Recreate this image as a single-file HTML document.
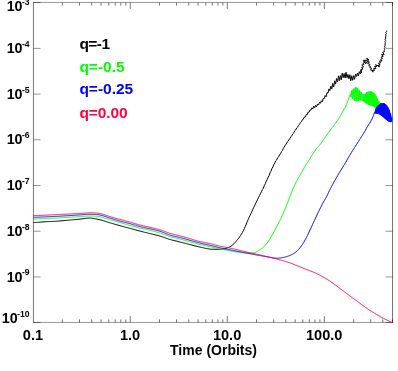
<!DOCTYPE html>
<html><head><meta charset="utf-8"><title>plot</title>
<style>
html,body{margin:0;padding:0;background:#fff;}
body{width:398px;height:371px;overflow:hidden;position:relative;font-family:"Liberation Sans",sans-serif;}
svg{will-change:transform;}
</style></head><body>
<svg width="398" height="371" viewBox="0 0 398 371" style="position:absolute;left:0;top:0">
<rect width="398" height="371" fill="#fff"/>
<g stroke="#000" fill="none">
<path d="M33.45,2.20 V322.80 M392.50,2.20 V322.80" stroke-width="0.54"/>
<path d="M33.20,2.45 H392.80 M33.20,322.45 H392.80" stroke-width="0.42"/>
<path d="M62.42,2.50 v3.10 M62.42,322.50 v-3.10 M79.51,2.50 v3.10 M79.51,322.50 v-3.10 M91.63,2.50 v3.10 M91.63,322.50 v-3.10 M101.04,2.50 v3.10 M101.04,322.50 v-3.10 M108.72,2.50 v3.10 M108.72,322.50 v-3.10 M115.22,2.50 v3.10 M115.22,322.50 v-3.10 M120.85,2.50 v3.10 M120.85,322.50 v-3.10 M125.81,2.50 v3.10 M125.81,322.50 v-3.10 M130.25,2.50 v6.40 M130.25,322.50 v-6.40 M159.47,2.50 v3.10 M159.47,322.50 v-3.10 M176.56,2.50 v3.10 M176.56,322.50 v-3.10 M188.69,2.50 v3.10 M188.69,322.50 v-3.10 M198.09,2.50 v3.10 M198.09,322.50 v-3.10 M205.78,2.50 v3.10 M205.78,322.50 v-3.10 M212.27,2.50 v3.10 M212.27,322.50 v-3.10 M217.90,2.50 v3.10 M217.90,322.50 v-3.10 M222.87,2.50 v3.10 M222.87,322.50 v-3.10 M227.31,2.50 v6.40 M227.31,322.50 v-6.40 M256.52,2.50 v3.10 M256.52,322.50 v-3.10 M273.61,2.50 v3.10 M273.61,322.50 v-3.10 M285.74,2.50 v3.10 M285.74,322.50 v-3.10 M295.15,2.50 v3.10 M295.15,322.50 v-3.10 M302.83,2.50 v3.10 M302.83,322.50 v-3.10 M309.33,2.50 v3.10 M309.33,322.50 v-3.10 M314.96,2.50 v3.10 M314.96,322.50 v-3.10 M319.92,2.50 v3.10 M319.92,322.50 v-3.10 M324.36,2.50 v6.40 M324.36,322.50 v-6.40 M353.58,2.50 v3.10 M353.58,322.50 v-3.10 M370.67,2.50 v3.10 M370.67,322.50 v-3.10 M382.79,2.50 v3.10 M382.79,322.50 v-3.10 M392.50,2.50 v3.10 M392.50,322.50 v-3.10" stroke-width="0.54"/>
<path d="M33.50,322.45 h7 M392.50,322.45 h-7 M33.50,276.94 h7 M392.50,276.94 h-7 M33.50,231.22 h7 M392.50,231.22 h-7 M33.50,185.51 h7 M392.50,185.51 h-7 M33.50,139.79 h7 M392.50,139.79 h-7 M33.50,94.08 h7 M392.50,94.08 h-7 M33.50,48.36 h7 M392.50,48.36 h-7 M33.50,2.45 h7 M392.50,2.45 h-7" stroke-width="0.42"/>
</g>
<g fill="none" stroke-width="0.95" stroke-linejoin="round">
<path d="M33.50,222.60 L34.45,222.53 L35.40,222.47 L36.35,222.40 L37.30,222.33 L38.25,222.26 L39.20,222.19 L40.15,222.12 L41.10,222.05 L42.05,221.99 L43.00,221.93 L43.95,221.86 L44.90,221.81 L45.85,221.75 L46.80,221.70 L47.75,221.66 L48.70,221.61 L49.65,221.57 L50.60,221.53 L51.55,221.49 L52.50,221.45 L53.45,221.40 L54.40,221.36 L55.35,221.30 L56.30,221.25 L57.25,221.18 L58.20,221.11 L59.15,221.03 L60.10,220.95 L61.05,220.87 L62.00,220.78 L62.95,220.69 L63.90,220.59 L64.85,220.50 L65.80,220.41 L66.75,220.32 L67.70,220.23 L68.65,220.14 L69.60,220.05 L70.55,219.97 L71.50,219.88 L72.45,219.80 L73.40,219.71 L74.35,219.62 L75.30,219.54 L76.25,219.45 L77.20,219.36 L78.15,219.27 L79.10,219.19 L80.05,219.10 L81.00,218.99 L81.95,218.87 L82.90,218.74 L83.85,218.60 L84.80,218.46 L85.75,218.34 L86.70,218.23 L87.65,218.15 L88.60,218.10 L89.55,218.09 L90.50,218.12 L91.45,218.19 L92.40,218.29 L93.35,218.42 L94.30,218.57 L95.25,218.75 L96.20,218.94 L97.15,219.14 L98.10,219.36 L99.05,219.58 L100.00,219.80 L100.95,220.03 L101.90,220.29 L102.85,220.56 L103.80,220.85 L104.75,221.15 L105.70,221.45 L106.65,221.75 L107.60,222.06 L108.55,222.36 L109.50,222.65 L110.45,222.93 L111.40,223.21 L112.35,223.49 L113.30,223.77 L114.25,224.05 L115.20,224.33 L116.15,224.60 L117.10,224.88 L118.05,225.15 L119.00,225.42 L119.95,225.69 L120.90,225.95 L121.85,226.21 L122.80,226.47 L123.75,226.73 L124.70,226.98 L125.65,227.24 L126.60,227.49 L127.55,227.74 L128.50,228.00 L129.45,228.25 L130.40,228.51 L131.35,228.77 L132.30,229.03 L133.25,229.28 L134.20,229.54 L135.15,229.80 L136.10,230.06 L137.05,230.32 L138.00,230.57 L138.95,230.82 L139.90,231.07 L140.85,231.32 L141.80,231.56 L142.75,231.80 L143.70,232.04 L144.65,232.28 L145.60,232.51 L146.55,232.75 L147.50,232.98 L148.45,233.21 L149.40,233.45 L150.35,233.69 L151.30,233.92 L152.25,234.14 L153.20,234.37 L154.15,234.59 L155.10,234.82 L156.05,235.05 L157.00,235.28 L157.95,235.53 L158.90,235.79 L159.85,236.06 L160.80,236.34 L161.75,236.65 L162.70,236.98 L163.65,237.31 L164.60,237.66 L165.55,238.00 L166.50,238.34 L167.45,238.67 L168.40,239.00 L169.35,239.30 L170.30,239.59 L171.25,239.85 L172.20,240.11 L173.15,240.35 L174.10,240.58 L175.05,240.81 L176.00,241.04 L176.95,241.26 L177.90,241.48 L178.85,241.71 L179.80,241.95 L180.75,242.19 L181.70,242.44 L182.65,242.68 L183.60,242.93 L184.55,243.18 L185.50,243.43 L186.45,243.68 L187.40,243.93 L188.35,244.18 L189.30,244.42 L190.25,244.66 L191.20,244.91 L192.15,245.15 L193.10,245.40 L194.05,245.64 L195.00,245.89 L195.95,246.13 L196.90,246.37 L197.85,246.60 L198.80,246.82 L199.75,247.04 L200.70,247.26 L201.65,247.47 L202.60,247.68 L203.55,247.89 L204.50,248.09 L205.45,248.29 L206.40,248.48 L207.35,248.66 L208.30,248.83 L209.25,248.99 L210.20,249.13 L211.15,249.22 L212.10,249.26 L213.05,249.28 L214.00,249.28 L214.95,249.30 L215.90,249.33 L216.85,249.37 L217.80,249.41 L218.75,249.42 L219.70,249.41 L220.65,249.36 L221.60,249.28 L222.55,249.17 L223.50,249.00 L224.45,248.79 L225.40,248.54 L226.35,248.24 L227.30,247.91 L228.25,247.54 L229.20,247.14 L230.15,246.67 L231.10,246.10 L232.05,245.42 L233.00,244.63 L233.95,243.75 L234.90,242.75 L235.85,241.64 L236.80,240.47 L237.75,239.31 L238.70,238.14 L239.65,236.89 L240.60,235.49 L241.55,233.97 L242.50,232.31 L243.45,230.51 L244.40,228.48 L245.35,226.31 L246.30,224.05 L247.25,221.67 L248.20,219.47 L249.15,217.37 L250.10,215.31 L251.05,213.27 L252.00,211.22 L252.95,209.18 L253.90,207.15 L254.85,205.14 L255.80,203.16 L256.75,201.19 L257.70,199.24 L258.65,197.31 L259.60,195.40 L260.55,193.53 L261.50,191.65 L262.45,189.39 L263.40,188.03 L264.35,185.44 L265.30,183.75 L266.25,181.28 L267.20,179.62 L268.15,177.14 L269.10,175.68 L270.05,172.75 L271.00,171.17 L271.95,168.50 L272.90,166.95 L273.85,164.43 L274.80,163.10 L275.75,160.80 L276.70,159.88 L277.65,157.79 L278.60,156.80 L279.55,154.81 L280.50,153.71 L281.45,151.56 L282.40,150.58 L283.35,148.32 L284.30,147.17 L285.25,145.17 L286.20,144.14 L287.15,142.08 L288.10,141.35 L289.05,139.32 L290.00,138.58 L290.95,136.49 L291.90,135.69 L292.85,133.71 L293.80,132.85 L294.75,130.78 L295.70,129.99 L296.65,127.96 L297.60,127.21 L298.55,125.29 L299.50,124.46 L300.45,122.42 L301.40,121.70 L302.35,119.83 L303.30,119.36 L304.25,117.12 L305.20,117.14 L306.15,114.76 L307.10,114.78 L308.05,112.12 L309.00,112.26 L309.95,110.03 L310.90,110.19 L311.85,107.87 L312.80,108.93 L313.75,106.32 L314.70,107.84 L315.65,105.22 L316.60,106.75 L317.55,104.03 L318.50,105.05 L319.45,102.44 L320.40,103.28 L321.35,100.74 L322.30,101.80 L323.25,98.37 L324.20,98.71 L325.15,95.64 L326.10,96.83 L327.05,92.60 L328.00,93.04 L328.95,88.92 L329.90,90.50 L330.85,86.16 L331.80,88.93 L332.75,83.40 L333.70,87.10 L334.65,80.80 L335.60,84.15 L336.55,78.59 L337.50,81.96 L338.45,75.81 L339.40,80.67 L340.35,75.63 L341.30,79.88 L342.25,73.13 L343.20,77.64 L344.15,73.55 L345.10,78.05 L346.05,72.28 L347.00,77.66 L347.95,74.43 L348.90,78.90 L349.85,74.74 L350.80,80.75 L351.75,75.75 L352.70,80.31 L353.65,75.64 L354.60,79.35 L355.55,73.91 L356.50,76.44 L357.45,73.18 L358.40,75.98 L359.35,71.69 L360.30,73.97 L361.25,70.15 L361.50,72.73 L360.78,69.62 L362.98,69.01 L361.51,67.44 L363.66,66.81 L361.78,65.13 L363.90,64.52 L363.05,63.06 L365.00,62.45 L363.09,60.68 L365.49,60.19 L365.80,60.04 L364.40,61.82 L366.45,62.25 L365.57,63.83 L365.92,62.55 L367.82,61.89 L366.46,60.31 L368.18,59.60 L366.80,58.02 L366.79,59.04 L368.97,59.83 L367.37,61.27 L369.45,62.09 L367.64,63.56 L369.96,64.33 L368.79,65.84 L370.55,66.33 L369.89,67.87 L371.67,68.32 L370.60,70.09 L372.42,70.51 L372.99,72.20 L372.28,70.39 L374.50,70.44 L373.64,68.52 L375.88,68.55 L374.60,66.44 L376.80,66.42 L375.79,64.47 L376.19,65.70 L378.77,65.36 L379.33,67.13 L377.93,65.46 L380.16,64.98 L378.36,63.18 L380.65,62.87 L379.47,60.96 L382.09,61.02 L380.58,59.20 L382.38,58.44 L381.27,57.00 L383.27,56.28 L381.45,54.68 L384.12,54.62 L382.68,52.33 L384.39,51.97 L384.06,50.77 L384.68,49.69 L384.34,48.49 L385.08,47.42 L384.45,46.19 L385.39,45.13 L384.81,43.93 L385.57,42.83 L384.99,41.63 L385.64,40.53 L385.06,39.33 L385.74,38.23 L385.42,37.05 L386.14,35.97 L385.62,34.75 L386.29,33.67 L385.82,32.46 L386.65,31.40 L386.40,30.50" stroke="#000" stroke-width="1" stroke-linejoin="miter"/>
<path d="M33.50,219.10 L34.50,219.06 L35.50,219.01 L36.50,218.97 L37.50,218.93 L38.50,218.89 L39.50,218.84 L40.50,218.80 L41.50,218.76 L42.50,218.71 L43.50,218.67 L44.50,218.62 L45.50,218.58 L46.50,218.53 L47.50,218.48 L48.50,218.43 L49.50,218.38 L50.50,218.33 L51.50,218.28 L52.50,218.23 L53.50,218.18 L54.50,218.13 L55.50,218.08 L56.50,218.03 L57.50,217.97 L58.50,217.92 L59.50,217.87 L60.50,217.82 L61.50,217.77 L62.50,217.71 L63.50,217.66 L64.50,217.60 L65.50,217.55 L66.50,217.49 L67.50,217.43 L68.50,217.37 L69.50,217.31 L70.50,217.24 L71.50,217.17 L72.50,217.11 L73.50,217.04 L74.50,216.97 L75.50,216.90 L76.50,216.83 L77.50,216.76 L78.50,216.70 L79.50,216.63 L80.50,216.57 L81.50,216.49 L82.50,216.41 L83.50,216.33 L84.50,216.25 L85.50,216.17 L86.50,216.10 L87.50,216.05 L88.50,216.01 L89.50,216.00 L90.50,216.01 L91.50,216.02 L92.50,216.05 L93.50,216.09 L94.50,216.14 L95.50,216.21 L96.50,216.30 L97.50,216.41 L98.50,216.55 L99.50,216.71 L100.50,216.90 L101.50,217.13 L102.50,217.40 L103.50,217.70 L104.50,218.01 L105.50,218.34 L106.50,218.68 L107.50,219.01 L108.50,219.34 L109.50,219.65 L110.50,219.94 L111.50,220.23 L112.50,220.51 L113.50,220.79 L114.50,221.07 L115.50,221.34 L116.50,221.62 L117.50,221.90 L118.50,222.18 L119.50,222.46 L120.50,222.74 L121.50,223.03 L122.50,223.32 L123.50,223.62 L124.50,223.91 L125.50,224.20 L126.50,224.50 L127.50,224.79 L128.50,225.07 L129.50,225.36 L130.50,225.64 L131.50,225.92 L132.50,226.20 L133.50,226.48 L134.50,226.76 L135.50,227.04 L136.50,227.31 L137.50,227.57 L138.50,227.83 L139.50,228.08 L140.50,228.32 L141.50,228.54 L142.50,228.75 L143.50,228.95 L144.50,229.15 L145.50,229.34 L146.50,229.54 L147.50,229.74 L148.50,229.95 L149.50,230.18 L150.50,230.42 L151.50,230.68 L152.50,230.93 L153.50,231.20 L154.50,231.47 L155.50,231.75 L156.50,232.04 L157.50,232.33 L158.50,232.64 L159.50,232.94 L160.50,233.26 L161.50,233.60 L162.50,233.95 L163.50,234.31 L164.50,234.68 L165.50,235.05 L166.50,235.42 L167.50,235.78 L168.50,236.12 L169.50,236.45 L170.50,236.75 L171.50,237.03 L172.50,237.29 L173.50,237.54 L174.50,237.78 L175.50,238.02 L176.50,238.25 L177.50,238.48 L178.50,238.72 L179.50,238.97 L180.50,239.23 L181.50,239.49 L182.50,239.76 L183.50,240.03 L184.50,240.30 L185.50,240.57 L186.50,240.84 L187.50,241.11 L188.50,241.39 L189.50,241.66 L190.50,241.94 L191.50,242.22 L192.50,242.51 L193.50,242.80 L194.50,243.09 L195.50,243.38 L196.50,243.67 L197.50,243.95 L198.50,244.22 L199.50,244.48 L200.50,244.72 L201.50,244.95 L202.50,245.17 L203.50,245.38 L204.50,245.58 L205.50,245.78 L206.50,245.98 L207.50,246.18 L208.50,246.38 L209.50,246.59 L210.50,246.81 L211.50,247.04 L212.50,247.27 L213.50,247.51 L214.50,247.75 L215.50,247.99 L216.50,248.22 L217.50,248.46 L218.50,248.68 L219.50,248.90 L220.50,249.10 L221.50,249.30 L222.50,249.48 L223.50,249.66 L224.50,249.84 L225.50,250.01 L226.50,250.18 L227.50,250.35 L228.50,250.53 L229.50,250.71 L230.50,250.89 L231.50,251.09 L232.50,251.30 L233.50,251.50 L234.50,251.71 L235.50,251.90 L236.50,252.07 L237.50,252.23 L238.50,252.37 L239.50,252.49 L240.50,252.60 L241.50,252.71 L242.50,252.80 L243.50,252.89 L244.50,252.96 L245.50,253.04 L246.50,253.12 L247.50,253.21 L248.50,253.27 L249.50,253.30 L250.50,253.28 L251.50,253.19 L252.50,253.02 L253.50,252.80 L254.50,252.51 L255.50,252.18 L256.50,251.79 L257.50,251.36 L258.50,250.73 L259.50,249.97 L260.50,249.23 L261.50,248.57 L262.50,247.85 L263.50,246.98 L264.50,246.02 L265.50,244.95 L266.50,243.75 L267.50,242.43 L268.50,241.03 L269.50,239.55 L270.50,238.00 L271.50,236.36 L272.50,234.65 L273.50,232.83 L274.50,230.93 L275.50,229.00 L276.50,227.01 L277.50,224.98 L278.50,223.04 L279.50,221.26 L280.50,219.41 L281.50,217.32 L282.50,215.15 L283.50,212.91 L284.50,210.58 L285.50,208.13 L286.50,205.55 L287.50,202.92 L288.50,200.31 L289.50,197.74 L290.50,195.15 L291.50,192.59 L292.50,190.12 L293.50,187.75 L294.50,185.46 L295.50,183.26 L296.50,181.19 L297.50,179.31 L298.50,177.62 L299.50,176.01 L300.50,174.38 L301.50,172.63 L302.50,170.77 L303.50,168.91 L304.50,167.14 L305.50,165.49 L306.50,163.90 L307.50,162.35 L308.50,160.82 L309.50,159.29 L310.50,157.74 L311.50,156.16 L312.50,154.56 L313.50,152.96 L314.50,151.40 L315.50,149.91 L316.50,148.54 L317.50,147.36 L318.50,146.28 L319.50,145.14 L320.50,143.83 L321.50,142.46 L322.50,141.07 L323.50,139.66 L324.50,138.24 L325.50,136.81 L326.50,135.39 L327.50,133.96 L328.50,132.55 L329.50,131.16 L330.50,129.80 L331.50,128.47 L332.50,127.15 L333.50,125.83 L334.50,124.50 L335.50,123.15 L336.50,121.75 L337.50,120.30 L338.50,118.76 L339.50,117.12 L340.50,115.40 L341.50,113.65 L342.50,111.91 L343.50,110.20 L344.50,108.70 L345.50,107.02 L346.50,104.60 L347.50,101.76 L348.50,98.96 L349.50,96.32 L350.00,95.00" stroke="#00ff00"/>
<path d="M350.00,94.50 L351.00,92.00 L352.00,90.00 L354.50,88.00 L356.30,87.00 L358.00,88.50 L360.00,90.70 L362.50,93.50 L364.50,94.50 L366.50,92.30 L369.00,91.40 L372.00,91.50 L374.50,93.30 L376.50,96.80 L378.50,100.80 L380.50,103.50 L383.00,106.00 L385.00,108.50 L385.00,115.00 L381.00,112.00 L378.00,110.00 L375.50,108.00 L373.50,106.60 L371.00,105.60 L368.00,104.60 L365.50,103.00 L363.50,101.60 L361.50,100.50 L360.20,100.20 L357.50,101.20 L355.50,101.30 L353.00,99.30 L351.00,97.00 L350.00,95.50Z" fill="#00ff00" fill-opacity="0.72" stroke="none"/>
<path d="M350.00,94.50 L350.95,96.92 L351.90,90.20 L352.85,99.13 L353.80,88.56 L354.75,100.70 L355.70,87.33 L356.65,101.24 L357.60,88.15 L358.55,100.81 L359.50,90.15 L360.45,100.26 L361.40,92.27 L362.35,100.97" stroke="#00ff00" stroke-width="0.8"/>
<path d="M363.00,93.75 L363.60,101.67 L364.20,94.35 L364.80,102.51 L365.40,93.51 L366.00,103.32 L366.60,92.26 L367.20,104.09 L367.80,91.83 L368.40,104.73 L369.00,91.40 L369.60,105.13 L370.20,91.44 L370.80,105.53 L371.40,91.48 L372.00,106.00 L372.60,91.93 L373.20,106.48 L373.80,92.80 L374.40,107.23 L375.00,94.18 L375.60,108.08 L376.20,96.28 L376.80,109.04 L377.40,98.60 L378.00,110.00 L378.60,100.94 L379.20,110.80 L379.80,102.56 L380.40,111.60 L381.00,104.00 L381.60,112.45 L382.20,105.20 L382.80,113.35 L383.40,106.50 L384.00,114.25 L384.60,108.00" stroke="#00ff00" stroke-width="0.8"/>
<path d="M33.50,217.30 L34.50,217.27 L35.50,217.23 L36.50,217.20 L37.50,217.17 L38.50,217.14 L39.50,217.10 L40.50,217.07 L41.50,217.03 L42.50,217.00 L43.50,216.96 L44.50,216.92 L45.50,216.88 L46.50,216.83 L47.50,216.79 L48.50,216.74 L49.50,216.69 L50.50,216.64 L51.50,216.59 L52.50,216.54 L53.50,216.48 L54.50,216.43 L55.50,216.38 L56.50,216.33 L57.50,216.27 L58.50,216.22 L59.50,216.17 L60.50,216.12 L61.50,216.07 L62.50,216.01 L63.50,215.96 L64.50,215.90 L65.50,215.85 L66.50,215.79 L67.50,215.73 L68.50,215.67 L69.50,215.61 L70.50,215.54 L71.50,215.47 L72.50,215.41 L73.50,215.34 L74.50,215.27 L75.50,215.20 L76.50,215.13 L77.50,215.06 L78.50,215.00 L79.50,214.93 L80.50,214.87 L81.50,214.79 L82.50,214.71 L83.50,214.63 L84.50,214.55 L85.50,214.48 L86.50,214.41 L87.50,214.36 L88.50,214.32 L89.50,214.30 L90.50,214.30 L91.50,214.31 L92.50,214.33 L93.50,214.35 L94.50,214.39 L95.50,214.45 L96.50,214.53 L97.50,214.63 L98.50,214.75 L99.50,214.91 L100.50,215.10 L101.50,215.34 L102.50,215.61 L103.50,215.91 L104.50,216.24 L105.50,216.58 L106.50,216.93 L107.50,217.28 L108.50,217.62 L109.50,217.94 L110.50,218.25 L111.50,218.56 L112.50,218.87 L113.50,219.17 L114.50,219.48 L115.50,219.78 L116.50,220.08 L117.50,220.38 L118.50,220.67 L119.50,220.96 L120.50,221.24 L121.50,221.51 L122.50,221.77 L123.50,222.03 L124.50,222.28 L125.50,222.53 L126.50,222.78 L127.50,223.04 L128.50,223.30 L129.50,223.56 L130.50,223.84 L131.50,224.13 L132.50,224.42 L133.50,224.72 L134.50,225.02 L135.50,225.33 L136.50,225.62 L137.50,225.92 L138.50,226.20 L139.50,226.47 L140.50,226.73 L141.50,226.97 L142.50,227.19 L143.50,227.41 L144.50,227.62 L145.50,227.83 L146.50,228.04 L147.50,228.25 L148.50,228.46 L149.50,228.68 L150.50,228.92 L151.50,229.15 L152.50,229.37 L153.50,229.60 L154.50,229.83 L155.50,230.07 L156.50,230.32 L157.50,230.58 L158.50,230.85 L159.50,231.15 L160.50,231.46 L161.50,231.81 L162.50,232.19 L163.50,232.59 L164.50,233.00 L165.50,233.41 L166.50,233.82 L167.50,234.22 L168.50,234.59 L169.50,234.94 L170.50,235.25 L171.50,235.53 L172.50,235.79 L173.50,236.03 L174.50,236.25 L175.50,236.47 L176.50,236.69 L177.50,236.90 L178.50,237.13 L179.50,237.37 L180.50,237.63 L181.50,237.90 L182.50,238.17 L183.50,238.45 L184.50,238.73 L185.50,239.02 L186.50,239.30 L187.50,239.59 L188.50,239.88 L189.50,240.16 L190.50,240.44 L191.50,240.73 L192.50,241.01 L193.50,241.30 L194.50,241.59 L195.50,241.88 L196.50,242.16 L197.50,242.44 L198.50,242.71 L199.50,242.97 L200.50,243.22 L201.50,243.46 L202.50,243.69 L203.50,243.90 L204.50,244.11 L205.50,244.32 L206.50,244.53 L207.50,244.74 L208.50,244.96 L209.50,245.18 L210.50,245.42 L211.50,245.66 L212.50,245.92 L213.50,246.17 L214.50,246.43 L215.50,246.69 L216.50,246.95 L217.50,247.20 L218.50,247.45 L219.50,247.69 L220.50,247.91 L221.50,248.13 L222.50,248.34 L223.50,248.54 L224.50,248.74 L225.50,248.93 L226.50,249.12 L227.50,249.31 L228.50,249.51 L229.50,249.70 L230.50,249.90 L231.50,250.10 L232.50,250.30 L233.50,250.50 L234.50,250.70 L235.50,250.90 L236.50,251.10 L237.50,251.30 L238.50,251.50 L239.50,251.70 L240.50,251.89 L241.50,252.09 L242.50,252.28 L243.50,252.47 L244.50,252.66 L245.50,252.85 L246.50,253.05 L247.50,253.24 L248.50,253.42 L249.50,253.61 L250.50,253.80 L251.50,253.99 L252.50,254.18 L253.50,254.36 L254.50,254.55 L255.50,254.74 L256.50,254.92 L257.50,255.11 L258.50,255.29 L259.50,255.47 L260.50,255.65 L261.50,255.84 L262.50,256.02 L263.50,256.20 L264.50,256.39 L265.50,256.56 L266.50,256.74 L267.50,256.91 L268.50,257.07 L269.50,257.23 L270.50,257.38 L271.50,257.54 L272.50,257.71 L273.50,257.88 L274.50,258.02 L275.50,258.14 L276.50,258.20 L277.50,258.21 L278.50,258.16 L279.50,258.07 L280.50,257.96 L281.50,257.81 L282.50,257.64 L283.50,257.43 L284.50,257.20 L285.50,256.94 L286.50,256.65 L287.50,256.34 L288.50,256.00 L289.50,255.63 L290.50,255.21 L291.50,254.74 L292.50,254.23 L293.50,253.65 L294.50,253.00 L295.50,252.27 L296.50,251.45 L297.50,250.52 L298.50,249.49 L299.50,248.36 L300.50,247.11 L301.50,245.75 L302.50,244.28 L303.50,242.69 L304.50,241.01 L305.50,239.25 L306.50,237.38 L307.50,235.38 L308.50,233.28 L309.50,231.12 L310.50,228.95 L311.50,226.80 L312.50,224.66 L313.50,222.48 L314.50,220.30 L315.50,218.12 L316.50,215.98 L317.50,213.87 L318.50,211.80 L319.50,209.74 L320.50,207.71 L321.50,205.72 L322.50,203.77 L323.50,201.92 L324.50,200.23 L325.50,198.57 L326.50,196.79 L327.50,194.74 L328.50,192.52 L329.50,190.39 L330.50,188.47 L331.50,186.57 L332.50,184.70 L333.50,182.85 L334.50,181.03 L335.50,179.24 L336.50,177.47 L337.50,175.74 L338.50,174.06 L339.50,172.41 L340.50,170.79 L341.50,169.19 L342.50,167.58 L343.50,165.95 L344.50,164.30 L345.50,162.61 L346.50,160.88 L347.50,159.15 L348.50,157.41 L349.50,155.69 L350.50,154.00 L351.50,152.35 L352.50,150.73 L353.50,149.15 L354.50,147.58 L355.50,146.03 L356.50,144.47 L357.50,142.91 L358.50,141.35 L359.50,139.81 L360.50,138.28 L361.50,136.74 L362.50,135.19 L363.50,133.60 L364.50,131.96 L365.50,130.11 L366.50,128.19 L367.50,126.47 L368.50,124.91 L369.50,123.39 L370.50,121.81 L371.50,120.07 L372.50,117.97 L373.50,115.39 L374.50,112.75 L374.60,112.50" stroke="#0000ff"/>
<path d="M374.50,112.00 L374.90,110.80 L376.00,108.00 L378.30,105.20 L380.50,103.40 L383.20,103.00 L385.50,103.90 L387.70,106.60 L389.60,110.20 L390.90,114.30 L392.30,118.80 L392.30,121.60 L390.90,122.20 L389.10,121.70 L387.00,120.60 L385.00,118.80 L383.20,117.00 L381.00,115.60 L379.20,114.20 L377.00,113.70 L375.10,113.40 L374.50,113.00Z" fill="#0000ff" fill-opacity="0.8" stroke="none"/>
<path d="M374.50,112.00 L375.12,113.40 L375.74,108.66 L376.36,113.60 L376.98,106.81 L377.60,113.84 L378.22,105.30 L378.84,114.12 L379.46,104.25 L380.08,114.88 L380.70,103.37 L381.32,115.80 L381.94,103.19 L382.56,116.59 L383.18,103.00 L383.80,117.60 L384.42,103.48 L385.04,118.84 L385.66,104.10 L386.28,119.95 L386.90,105.62 L387.52,120.87 L388.14,107.43 L388.76,121.52 L389.38,109.78 L390.00,121.95 L390.62,113.42 L391.24,122.05 L391.86,117.39" stroke="#0000ff" stroke-width="0.8"/>
<path d="M33.50,215.60 L34.50,215.57 L35.50,215.53 L36.50,215.50 L37.50,215.47 L38.50,215.44 L39.50,215.40 L40.50,215.37 L41.50,215.33 L42.50,215.30 L43.50,215.26 L44.50,215.22 L45.50,215.18 L46.50,215.13 L47.50,215.09 L48.50,215.04 L49.50,214.99 L50.50,214.93 L51.50,214.88 L52.50,214.83 L53.50,214.78 L54.50,214.72 L55.50,214.67 L56.50,214.62 L57.50,214.58 L58.50,214.53 L59.50,214.48 L60.50,214.44 L61.50,214.39 L62.50,214.35 L63.50,214.31 L64.50,214.26 L65.50,214.22 L66.50,214.17 L67.50,214.12 L68.50,214.08 L69.50,214.03 L70.50,213.98 L71.50,213.94 L72.50,213.89 L73.50,213.84 L74.50,213.79 L75.50,213.74 L76.50,213.69 L77.50,213.64 L78.50,213.59 L79.50,213.53 L80.50,213.47 L81.50,213.39 L82.50,213.31 L83.50,213.22 L84.50,213.12 L85.50,213.03 L86.50,212.95 L87.50,212.88 L88.50,212.83 L89.50,212.80 L90.50,212.80 L91.50,212.81 L92.50,212.82 L93.50,212.85 L94.50,212.89 L95.50,212.94 L96.50,213.02 L97.50,213.12 L98.50,213.25 L99.50,213.41 L100.50,213.60 L101.50,213.84 L102.50,214.11 L103.50,214.42 L104.50,214.75 L105.50,215.09 L106.50,215.44 L107.50,215.79 L108.50,216.13 L109.50,216.45 L110.50,216.75 L111.50,217.04 L112.50,217.32 L113.50,217.61 L114.50,217.89 L115.50,218.16 L116.50,218.44 L117.50,218.71 L118.50,218.99 L119.50,219.26 L120.50,219.54 L121.50,219.81 L122.50,220.08 L123.50,220.34 L124.50,220.61 L125.50,220.88 L126.50,221.14 L127.50,221.41 L128.50,221.69 L129.50,221.96 L130.50,222.24 L131.50,222.53 L132.50,222.83 L133.50,223.12 L134.50,223.42 L135.50,223.72 L136.50,224.02 L137.50,224.31 L138.50,224.60 L139.50,224.87 L140.50,225.13 L141.50,225.38 L142.50,225.61 L143.50,225.84 L144.50,226.06 L145.50,226.28 L146.50,226.50 L147.50,226.72 L148.50,226.95 L149.50,227.18 L150.50,227.42 L151.50,227.65 L152.50,227.89 L153.50,228.12 L154.50,228.36 L155.50,228.60 L156.50,228.84 L157.50,229.10 L158.50,229.37 L159.50,229.65 L160.50,229.95 L161.50,230.28 L162.50,230.63 L163.50,230.99 L164.50,231.36 L165.50,231.74 L166.50,232.11 L167.50,232.47 L168.50,232.82 L169.50,233.15 L170.50,233.45 L171.50,233.73 L172.50,233.99 L173.50,234.23 L174.50,234.47 L175.50,234.70 L176.50,234.94 L177.50,235.17 L178.50,235.41 L179.50,235.67 L180.50,235.94 L181.50,236.21 L182.50,236.50 L183.50,236.79 L184.50,237.08 L185.50,237.37 L186.50,237.67 L187.50,237.97 L188.50,238.26 L189.50,238.55 L190.50,238.85 L191.50,239.14 L192.50,239.45 L193.50,239.75 L194.50,240.06 L195.50,240.36 L196.50,240.65 L197.50,240.94 L198.50,241.21 L199.50,241.48 L200.50,241.72 L201.50,241.94 L202.50,242.15 L203.50,242.34 L204.50,242.53 L205.50,242.71 L206.50,242.89 L207.50,243.08 L208.50,243.28 L209.50,243.49 L210.50,243.72 L211.50,243.96 L212.50,244.22 L213.50,244.49 L214.50,244.77 L215.50,245.04 L216.50,245.32 L217.50,245.59 L218.50,245.84 L219.50,246.09 L220.50,246.31 L221.50,246.52 L222.50,246.71 L223.50,246.90 L224.50,247.07 L225.50,247.25 L226.50,247.42 L227.50,247.60 L228.50,247.79 L229.50,247.99 L230.50,248.21 L231.50,248.43 L232.50,248.66 L233.50,248.90 L234.50,249.14 L235.50,249.39 L236.50,249.63 L237.50,249.88 L238.50,250.12 L239.50,250.37 L240.50,250.61 L241.50,250.85 L242.50,251.08 L243.50,251.30 L244.50,251.53 L245.50,251.75 L246.50,251.97 L247.50,252.19 L248.50,252.41 L249.50,252.63 L250.50,252.84 L251.50,253.06 L252.50,253.28 L253.50,253.50 L254.50,253.72 L255.50,253.94 L256.50,254.16 L257.50,254.38 L258.50,254.61 L259.50,254.84 L260.50,255.07 L261.50,255.30 L262.50,255.54 L263.50,255.77 L264.50,256.01 L265.50,256.24 L266.50,256.48 L267.50,256.72 L268.50,256.96 L269.50,257.20 L270.50,257.44 L271.50,257.69 L272.50,257.94 L273.50,258.19 L274.50,258.44 L275.50,258.70 L276.50,258.96 L277.50,259.22 L278.50,259.49 L279.50,259.75 L280.50,260.02 L281.50,260.29 L282.50,260.57 L283.50,260.85 L284.50,261.14 L285.50,261.44 L286.50,261.75 L287.50,262.06 L288.50,262.39 L289.50,262.73 L290.50,263.08 L291.50,263.44 L292.50,263.82 L293.50,264.21 L294.50,264.61 L295.50,265.01 L296.50,265.42 L297.50,265.84 L298.50,266.26 L299.50,266.68 L300.50,267.09 L301.50,267.51 L302.50,267.92 L303.50,268.32 L304.50,268.71 L305.50,269.10 L306.50,269.48 L307.50,269.85 L308.50,270.23 L309.50,270.60 L310.50,270.99 L311.50,271.38 L312.50,271.78 L313.50,272.20 L314.50,272.63 L315.50,273.08 L316.50,273.55 L317.50,274.04 L318.50,274.53 L319.50,275.04 L320.50,275.57 L321.50,276.10 L322.50,276.65 L323.50,277.21 L324.50,277.78 L325.50,278.36 L326.50,278.96 L327.50,279.57 L328.50,280.20 L329.50,280.84 L330.50,281.49 L331.50,282.17 L332.50,282.88 L333.50,283.59 L334.50,284.33 L335.50,285.07 L336.50,285.83 L337.50,286.59 L338.50,287.35 L339.50,288.11 L340.50,288.88 L341.50,289.63 L342.50,290.38 L343.50,291.12 L344.50,291.86 L345.50,292.60 L346.50,293.35 L347.50,294.09 L348.50,294.84 L349.50,295.59 L350.50,296.33 L351.50,297.08 L352.50,297.82 L353.50,298.56 L354.50,299.30 L355.50,300.03 L356.50,300.77 L357.50,301.50 L358.50,302.24 L359.50,302.98 L360.50,303.72 L361.50,304.46 L362.50,305.19 L363.50,305.92 L364.50,306.64 L365.50,307.36 L366.50,308.06 L367.50,308.75 L368.50,309.43 L369.50,310.10 L370.50,310.75 L371.50,311.40 L372.50,312.03 L373.50,312.66 L374.50,313.28 L375.50,313.89 L376.50,314.49 L377.50,315.08 L378.50,315.66 L379.50,316.24 L380.50,316.80 L381.50,317.36 L382.50,317.91 L383.50,318.44 L384.50,318.94 L385.50,319.43 L386.50,319.90 L387.50,320.36 L388.50,320.81 L389.50,321.26 L390.50,321.72 L391.50,322.18 L392.40,322.60" stroke="#ff0040"/>
</g>
<g font-family="'Liberation Sans', sans-serif" font-weight="bold" fill="#000" opacity="0.999">
<text x="29.6" y="322.9" text-anchor="end" font-size="14.3"><tspan>10</tspan><tspan font-size="8.6" dy="-6.2" dx="-0.6">-10</tspan></text>
<text x="29.6" y="281.6" text-anchor="end" font-size="14.3"><tspan>10</tspan><tspan font-size="8.6" dy="-6.2" dx="-0.6">-9</tspan></text>
<text x="29.6" y="235.9" text-anchor="end" font-size="14.3"><tspan>10</tspan><tspan font-size="8.6" dy="-6.2" dx="-0.6">-8</tspan></text>
<text x="29.6" y="190.2" text-anchor="end" font-size="14.3"><tspan>10</tspan><tspan font-size="8.6" dy="-6.2" dx="-0.6">-7</tspan></text>
<text x="29.6" y="144.4" text-anchor="end" font-size="14.3"><tspan>10</tspan><tspan font-size="8.6" dy="-6.2" dx="-0.6">-6</tspan></text>
<text x="29.6" y="98.7" text-anchor="end" font-size="14.3"><tspan>10</tspan><tspan font-size="8.6" dy="-6.2" dx="-0.6">-5</tspan></text>
<text x="29.6" y="53.0" text-anchor="end" font-size="14.3"><tspan>10</tspan><tspan font-size="8.6" dy="-6.2" dx="-0.6">-4</tspan></text>
<text x="29.6" y="11.0" text-anchor="end" font-size="14.3"><tspan>10</tspan><tspan font-size="8.6" dy="-6.2" dx="-0.6">-3</tspan></text>
<text x="33.0" y="340.4" text-anchor="middle" font-size="14.6">0.1</text>
<text x="130.1" y="340.4" text-anchor="middle" font-size="14.6">1.0</text>
<text x="227.1" y="340.4" text-anchor="middle" font-size="14.6">10.0</text>
<text x="324.2" y="340.4" text-anchor="middle" font-size="14.6">100.0</text>
<text x="213.5" y="355.4" text-anchor="middle" font-size="14">Time (Orbits)</text>
<text x="79.4" y="48.5" font-size="15.5" fill="#000" letter-spacing="-0.55">q=-1</text>
<text x="79.4" y="72.3" font-size="15.5" fill="#00ff00" letter-spacing="0.00">q=-0.5</text>
<text x="79.4" y="94.4" font-size="15.5" fill="#0000ff" letter-spacing="0.00">q=-0.25</text>
<text x="79.4" y="117.7" font-size="15.5" fill="#ff0040" letter-spacing="-0.10">q=0.00</text>
</g>
</svg>
</body></html>
